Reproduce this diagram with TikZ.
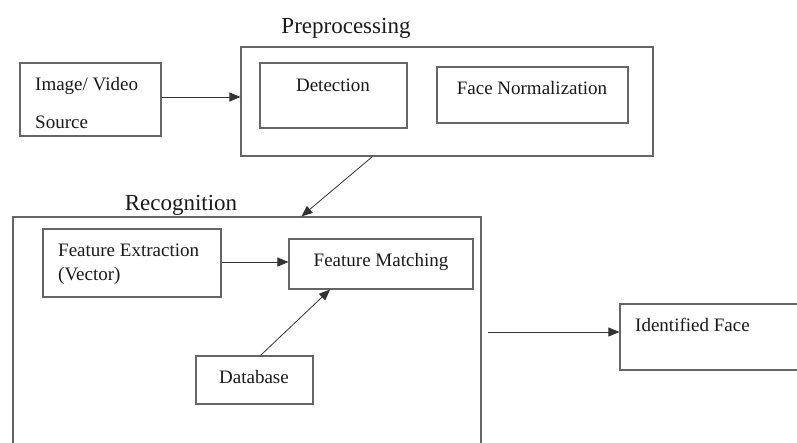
\documentclass[tikz,border=0pt]{standalone}
\usepackage{fontspec}
\setmainfont{Liberation Serif}
\usetikzlibrary{arrows.meta}

\tikzset{
  box/.style={draw=black!60, line width=1.1pt, inner sep=0pt},
  lbl/.style={font=\fontsize{19}{22}\selectfont, text=black!90, inner sep=0pt},
  ttl/.style={font=\fontsize{23}{27}\selectfont, text=black!90, inner sep=0pt},
  arr/.style={draw=black!80, line width=0.8pt, -{Triangle[length=11pt,width=9pt]}}
}

\begin{document}
\begin{tikzpicture}[x=1pt,y=-1pt]
                \useasboundingbox (0,0) rectangle (797,442);
                \clip (0,0) rectangle (797,442);

                % input
                \node[box, minimum width=141pt, minimum height=73pt] (src) at (90.5,99.5) {};
                \node[lbl, anchor=base west] (srcA) at (35,90) {Image/ Video};
                \node[lbl, anchor=base west] (srcB) at (35,128) {Source};

                % preprocessing stage
                \node[box, minimum width=412pt, minimum height=109pt] (pre) at (447,101.5) {};
                \node[ttl, anchor=base] (preT) at (346,33) {Preprocessing};
                \node[box, minimum width=147pt, minimum height=65pt] (det) at (333.5,95.5) {};
                \node[lbl, anchor=base] (detT) at (333,91) {Detection};
                \node[box, minimum width=191pt, minimum height=56pt] (norm) at (532.5,95) {};
                \node[lbl, anchor=base] (normT) at (532,94) {Face Normalization};

                % recognition stage
                \node[box, minimum width=468pt, minimum height=263pt] (rec) at (247,348.5) {};
                \node[ttl, anchor=base] (recT) at (181,210) {Recognition};
                \node[box, minimum width=178pt, minimum height=68pt] (fe) at (132,263) {};
                \node[lbl, anchor=base west] (feA) at (58,256) {Feature Extraction};
                \node[lbl, anchor=base west] (feB) at (58,280) {(Vector)};
                \node[box, minimum width=184pt, minimum height=50pt] (fm) at (381,264) {};
                \node[lbl, anchor=base] (fmT) at (381,266) {Feature Matching};
                \node[box, minimum width=117pt, minimum height=48pt] (db) at (254.5,380) {};
                \node[lbl, anchor=base] (dbT) at (254,383) {Database};

                % output
                \node[box, minimum width=220pt, minimum height=66pt] (id) at (730,337) {};
                \node[lbl, anchor=base west] (idT) at (635,331) {Identified Face};

                \coordinate (preOut) at ([xshift=132pt]pre.south west);
                \coordinate (recIn) at ([xshift=289pt]rec.north west);
                \coordinate (recOut) at (488,332);

                \draw[arr] (src.east |- 0,97) -- (pre.west |- 0,97);
                \draw[arr] (preOut) -- (recIn);
                \draw[arr] (fe.east |- 0,262) -- (fm.west |- 0,262);
                \draw[arr] ([xshift=6pt]db.north) -- ([xshift=-51pt]fm.south);
                \draw[arr] (recOut) -- (recOut -| id.west);
\end{tikzpicture}
\end{document}
